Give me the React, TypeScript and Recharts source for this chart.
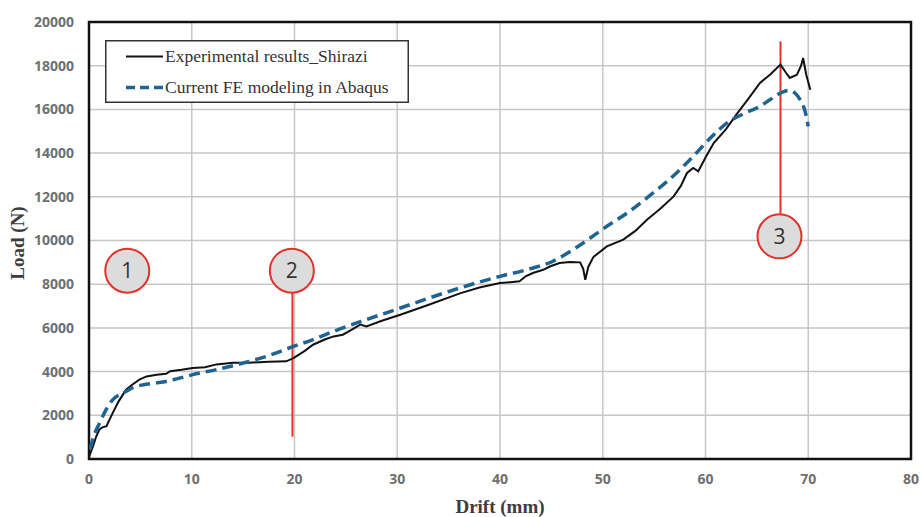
import React from 'react';
import {
  LineChart,
  Line,
  XAxis,
  YAxis,
  CartesianGrid,
  ReferenceArea,
  ReferenceLine,
  ReferenceDot,
} from 'recharts';

const xTicks = [0, 10, 20, 30, 40, 50, 60, 70, 80];
const yTicks = [0, 2000, 4000, 6000, 8000, 10000, 12000, 14000, 16000, 18000, 20000];

const expDrift = [
  0, 0.4, 0.7, 1.0, 1.3, 1.7, 2.0, 2.3, 2.9, 3.6, 4.2, 4.9, 5.6, 6.6, 7.5, 7.9, 9.0, 10.1, 11.3, 12.4,
  14.0, 15.6, 17.5, 19.2, 19.9, 21.0, 21.8, 23.0, 23.8, 24.7, 25.5, 26.4, 27.0, 28.5, 30.3, 33.0, 36.1,
  38.0, 40.0, 41.9, 42.5, 43.2, 44.2, 44.9, 45.8, 46.8, 47.8, 48.1, 48.3, 48.6, 49.1, 50.4, 52.0, 53.2,
  54.3, 55.6, 56.9, 57.6, 58.2, 58.8, 59.3, 60.0, 60.8, 62.0, 63.0, 64.2, 65.3, 66.3, 67.3, 67.8, 68.2,
  68.9, 69.3, 69.5, 69.8, 70.2,
];
const expLoad = [
  100, 600, 1030, 1340, 1450, 1500, 1800, 2100, 2650, 3170, 3400, 3630, 3780, 3860, 3900, 4020, 4080,
  4160, 4200, 4330, 4400, 4410, 4450, 4470, 4620, 4950, 5230, 5480, 5610, 5690, 5900, 6150, 6070, 6330,
  6600, 7050, 7580, 7850, 8050, 8130, 8360, 8510, 8660, 8820, 8970, 9020, 9000, 8700, 8200, 8800, 9250,
  9730, 10040, 10450, 10950, 11450, 12020, 12500, 13090, 13320, 13170, 13800, 14460, 15100, 15760, 16500,
  17210, 17600, 18050, 17700, 17440, 17590, 18000, 18350, 17600, 16900,
];

const feDrift = [
  0.1, 0.5, 1.04, 1.6, 2.3, 3.0, 3.6, 4.3, 5.3, 6.5, 7.5, 8.8, 10.1, 12.4, 15.0, 17.3, 19.9, 22.0, 23.8,
  27.0, 30.3, 33.0, 36.1, 40.0, 42.5, 45.1, 47.5, 50.4, 52.5, 54.3, 56.5, 58.8, 60.5, 62.1, 63.7, 65.3,
  66.3, 67.3, 68.1, 68.7, 69.2, 69.7, 70.0,
];
const feLoad = [
  450, 1100, 1650, 2200, 2710, 2950, 3090, 3280, 3400, 3480, 3550, 3700, 3860, 4090, 4390, 4700, 5150,
  5500, 5840, 6380, 6910, 7350, 7830, 8360, 8650, 9040, 9700, 10650, 11300, 11950, 12800, 13850, 14700,
  15380, 15800, 16140, 16450, 16750, 16870, 16750, 16450, 15900, 15220,
];

const seriesNames = ['Experimental results_Shirazi', 'Current FE modeling in Abaqus'];

const markLabels = ['1', '2', '3'];
const markDrift = [3.72, 19.74, 67.2];
const markLoad = [8620, 8620, 10190];

const redLineDrift = [19.8, 67.3];
const redLineFrom = [1020, 11230];
const redLineTo = [7620, 19110];

const expData = expDrift.map((d, i) => ({ drift: d, load: expLoad[i] }));
const feData = feDrift.map((d, i) => ({ drift: d, load: feLoad[i] }));

const BLUE = '#1f6391';
const RED = '#e2312a';

const tickStyle = {
  fontFamily: '"Open Sans", sans-serif',
  fontWeight: 700,
  fontSize: 14,
  fill: '#6f6f6f',
};

const LegendBox = () => (
  <svg width={305} height={64} style={{ display: 'block' }}>
    <rect x={0.75} y={0.75} width={302.5} height={61.5} fill="#fff" stroke="#333" strokeWidth={1.5} />
    <line x1={21} y1={16.5} x2={58} y2={16.5} stroke="#111" strokeWidth={2} />
    <text
      x={60}
      y={22}
      fontFamily='"Liberation Serif", "Times New Roman", serif'
      fontSize={17.5}
      fill="#333"
    >
      {seriesNames[0]}
    </text>
    <line x1={21} y1={47.5} x2={58} y2={47.5} stroke={BLUE} strokeWidth={3.5} strokeDasharray="9 5" />
    <text
      x={60}
      y={53}
      fontFamily='"Liberation Serif", "Times New Roman", serif'
      fontSize={17.5}
      fill="#333"
    >
      {seriesNames[1]}
    </text>
  </svg>
);

export default function App() {
  return (
    <div style={{ position: 'absolute', left: 0, top: 0, width: 921, height: 517, background: '#fff' }}>
      <LineChart width={921} height={517} margin={{ top: 22, right: 10, bottom: 0, left: 0 }}>
        <CartesianGrid stroke="#c6c6c6" strokeWidth={1.5} />
        <XAxis
          dataKey="drift"
          type="number"
          domain={[0, 80]}
          ticks={xTicks}
          allowDataOverflow
          height={58}
          tickLine={false}
          axisLine={false}
          tickSize={0}
          tickMargin={15}
          tick={tickStyle}
          label={{
            value: 'Drift (mm)',
            position: 'insideBottom',
            offset: 4,
            style: {
              fontFamily: '"Liberation Serif", "Times New Roman", serif',
              fontWeight: 700,
              fontSize: 19,
              fill: '#3c3c3c',
            },
          }}
        />
        <YAxis
          dataKey="load"
          type="number"
          domain={[0, 20000]}
          ticks={yTicks}
          width={89}
          tickLine={false}
          axisLine={false}
          tickSize={0}
          tickMargin={15}
          tick={tickStyle}
          label={{
            content: () => (
              <text
                x={24}
                y={243}
                transform="rotate(-90 24 243)"
                textAnchor="middle"
                fontFamily='"Liberation Serif", "Times New Roman", serif'
                fontWeight={700}
                fontSize={19}
                fill="#3c3c3c"
              >
                Load (N)
              </text>
            ),
          }}
        />
        <ReferenceArea
          x1={0}
          x2={80}
          y1={0}
          y2={20000}
          fill="none"
          fillOpacity={0}
          stroke="#111"
          strokeWidth={2.5}
        />
        {redLineDrift.map((d, i) => (
          <ReferenceLine
            key={'rl' + i}
            segment={[
              { x: d, y: redLineFrom[i] },
              { x: d, y: redLineTo[i] },
            ]}
            stroke={RED}
            strokeWidth={2}
          />
        ))}
        <Line
          data={expData}
          dataKey="load"
          type="linear"
          stroke="#111"
          strokeWidth={2}
          dot={false}
          isAnimationActive={false}
          name={seriesNames[0]}
        />
        <Line
          data={feData}
          dataKey="load"
          type="monotone"
          stroke={BLUE}
          strokeWidth={3.5}
          strokeDasharray="11 6"
          dot={false}
          isAnimationActive={false}
          name={seriesNames[1]}
        />
        {markLabels.map((m, i) => (
          <ReferenceDot
            key={'md' + i}
            x={markDrift[i]}
            y={markLoad[i]}
            r={22}
            fill="#dcdcdc"
            stroke={RED}
            strokeWidth={2}
            label={{
              value: m,
              position: 'center',
              style: { fontFamily: '"Open Sans", sans-serif', fontSize: 21, fill: '#333' },
            }}
          />
        ))}
      </LineChart>
      <div style={{ position: 'absolute', left: 105, top: 40 }}>
        <LegendBox />
      </div>
    </div>
  );
}
